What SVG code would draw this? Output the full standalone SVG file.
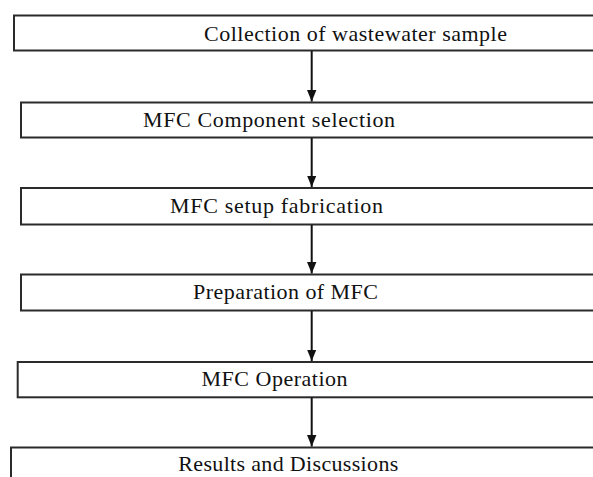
<svg xmlns="http://www.w3.org/2000/svg" width="593" height="477" viewBox="0 0 593 477">
  <style>
    .box { fill: #ffffff; stroke: #2b2b2b; stroke-width: 2; }
    .lbl { font-family: "Liberation Serif", "Times New Roman", serif; font-size: 22px; fill: #111111; }
    .conn { stroke: #111111; stroke-width: 2; fill: none; }
  </style>
  <defs>
    <marker id="arrow" markerUnits="userSpaceOnUse" markerWidth="12" markerHeight="10" refX="11.5" refY="5" orient="auto" viewBox="0 0 12 10">
      <path d="M0,0.3 L11.5,5 L0,9.7 Z" fill="#111111"/>
    </marker>
  </defs>
  <rect width="593" height="477" fill="#ffffff"/>

  <g id="node-collection">
    <rect class="box" x="14" y="15.5" width="600" height="35"/>
    <text class="lbl" x="204" y="41" textLength="303" lengthAdjust="spacing">Collection of wastewater sample</text>
  </g>
  <g id="node-component">
    <rect class="box" x="21" y="102.5" width="600" height="35"/>
    <text class="lbl" x="143" y="126.7" textLength="252" lengthAdjust="spacing">MFC Component selection</text>
  </g>
  <g id="node-fabrication">
    <rect class="box" x="21" y="188" width="600" height="36.5"/>
    <text class="lbl" x="170" y="212.7" textLength="213" lengthAdjust="spacing">MFC setup fabrication</text>
  </g>
  <g id="node-preparation">
    <rect class="box" x="21" y="274.5" width="600" height="36"/>
    <text class="lbl" x="193" y="299" textLength="185" lengthAdjust="spacing">Preparation of MFC</text>
  </g>
  <g id="node-operation">
    <rect class="box" x="17.7" y="362" width="600" height="35.3"/>
    <text class="lbl" x="201.5" y="385.5" textLength="146" lengthAdjust="spacing">MFC Operation</text>
  </g>
  <g id="node-results">
    <rect class="box" x="11" y="447.5" width="600" height="60"/>
    <text class="lbl" x="178.3" y="471" textLength="220" lengthAdjust="spacing">Results and Discussions</text>
  </g>

  <g id="connectors">
    <line class="conn" x1="311.7" y1="51" x2="311.7" y2="101.5" marker-end="url(#arrow)"/>
    <line class="conn" x1="311.7" y1="138" x2="311.7" y2="187" marker-end="url(#arrow)"/>
    <line class="conn" x1="311.7" y1="225" x2="311.7" y2="273.5" marker-end="url(#arrow)"/>
    <line class="conn" x1="311.7" y1="311" x2="311.7" y2="361" marker-end="url(#arrow)"/>
    <line class="conn" x1="311.7" y1="397.5" x2="311.7" y2="446.5" marker-end="url(#arrow)"/>
  </g>
</svg>
